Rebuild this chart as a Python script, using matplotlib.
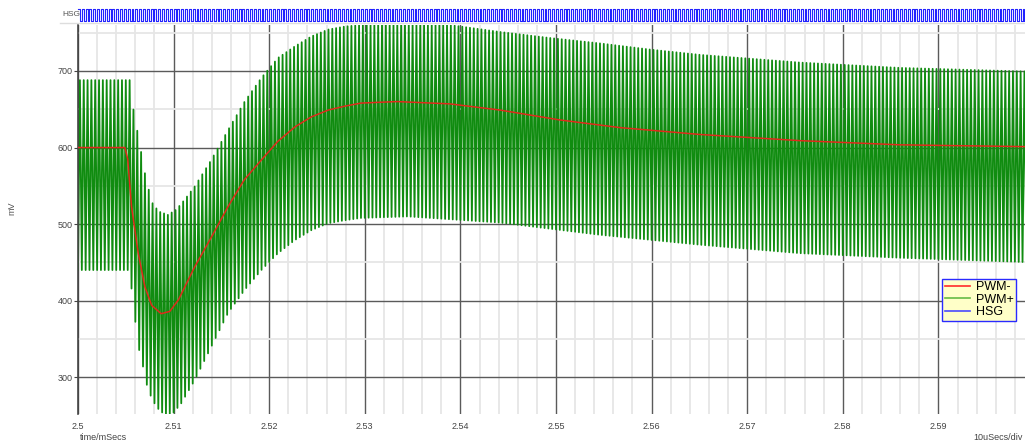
import numpy as np
import matplotlib
matplotlib.use('Agg')
import matplotlib.pyplot as plt
from matplotlib.lines import Line2D
from matplotlib.ticker import MultipleLocator, FuncFormatter

plt.rcParams['font.family'] = ['Liberation Sans', 'DejaVu Sans']

# PWM- (average) trace
pwm_minus_t = [2.5, 2.5049, 2.5052, 2.5056, 2.5063, 2.5070, 2.5077, 2.5087, 2.5096, 2.5105,
               2.5122, 2.5140, 2.5157, 2.5174, 2.5192, 2.5209, 2.5227, 2.5244, 2.5262,
               2.5279, 2.5296, 2.5314, 2.5334, 2.5389, 2.5441, 2.5504, 2.5567, 2.5651,
               2.5755, 2.5860, 2.6]
pwm_minus_mv = [600, 600, 585, 523, 462, 418, 394, 383, 386, 401,
                444, 484, 523, 558, 584, 608, 627, 640, 649,
                654, 658, 659, 660, 657, 649, 636, 626, 617,
                609, 603.5, 601]

# PWM+ ripple: peak and trough envelopes
upper_t = [2.5, 2.5054, 2.50575, 2.5063, 2.50715, 2.50785, 2.50854, 2.50941, 2.51029,
           2.51116, 2.5122, 2.51395, 2.5157, 2.51743, 2.51918, 2.52092, 2.52267, 2.5244,
           2.52615, 2.5279, 2.5296, 2.5314, 2.5345, 2.5389, 2.5441, 2.5494, 2.5546,
           2.5598, 2.5651, 2.5755, 2.5860, 2.6]
upper_mv = [688, 688, 653, 615, 556, 525, 516, 512, 519,
            532, 549, 584, 623, 660, 691, 717, 732, 745,
            754, 758, 760, 762, 762, 760, 751, 743, 736,
            728, 721, 711, 704, 699]
lower_t = [2.5, 2.5052, 2.50558, 2.50628, 2.5068, 2.50732, 2.5082, 2.50906, 2.50994,
           2.5108, 2.5122, 2.51395, 2.5157, 2.51743, 2.51918, 2.52092, 2.52267, 2.5244,
           2.52615, 2.5279, 2.5296, 2.5345, 2.5441, 2.5546, 2.5651, 2.5755, 2.5860, 2.6]
lower_mv = [440, 440, 418, 342, 314, 283, 261, 251, 253,
            266, 296, 340, 384, 414, 440, 462, 479, 492,
            501, 505, 508, 510, 502, 486, 473, 462, 456, 450]

switch_period = 0.0004   # mSecs, ~2.5 MHz
t_start, t_end = 2.5, 2.6
x_ticks = [2.5, 2.51, 2.52, 2.53, 2.54, 2.55, 2.56, 2.57, 2.58, 2.59]
y_ticks = [300, 400, 500, 600, 700]

W, H = 1025, 442
fig = plt.figure(figsize=(W / 100, H / 100), dpi=100)

def fig_box(x0, y0, x1, y1):
    # pixel box (top-left origin) -> figure fraction rect
    return [x0 / W, 1 - y1 / H, (x1 - x0) / W, (y1 - y0) / H]

ax = fig.add_axes(fig_box(78, 25, 1034, 414))
hsg = fig.add_axes(fig_box(78, 9, 1034, 21))

# ripple: troughs at cycle starts, peaks at half-cycles
n_half = int(round((t_end - t_start) / (switch_period / 2)))
t_pts = t_start + np.arange(n_half + 1) * switch_period / 2
is_peak = np.arange(n_half + 1) % 2 == 1
ripple = np.where(is_peak, np.interp(t_pts, upper_t, upper_mv), np.interp(t_pts, lower_t, lower_mv))

ax.plot(t_pts, ripple, color='#108c10', lw=1.3, zorder=2)
ax.plot(pwm_minus_t, pwm_minus_mv, color='#e02a1a', lw=1.1, zorder=3)

ax.set_xlim(t_start, t_end)
ax.set_ylim(252, 760)
ax.xaxis.set_minor_locator(MultipleLocator(0.002))
ax.yaxis.set_minor_locator(MultipleLocator(50))
ax.set_xticks(x_ticks)
ax.set_yticks(y_ticks)
ax.xaxis.set_major_formatter(FuncFormatter(lambda v, p: '%g' % round(v, 3)))
ax.grid(which='major', color='#5a5a5a', lw=1.0, zorder=1)
ax.grid(which='minor', color='#e6e6e6', lw=1.3, zorder=0)
ax.set_axisbelow(True)
for s in ['top', 'right', 'bottom']:
    ax.spines[s].set_visible(False)
ax.spines['left'].set_color('#444444')
ax.spines['left'].set_linewidth(1.2)
ax.tick_params(axis='x', which='both', length=0, labelsize=6.5, labelcolor='#444444', pad=6)
ax.tick_params(axis='y', which='major', length=3, color='#444444', labelsize=6.5,
               labelcolor='#444444', pad=1)
ax.tick_params(axis='y', which='minor', length=0)

leg_handles = [Line2D([], [], color='#ff2a2a', lw=1.2),
               Line2D([], [], color='#66bb44', lw=1.2),
               Line2D([], [], color='#4a4aff', lw=1.2)]
leg = fig.legend(leg_handles, ['PWM-', 'PWM+', 'HSG'], loc='upper left',
                 bbox_to_anchor=(942 / W, 1 - 279 / H), fancybox=False, fontsize=9,
                 handlelength=2.0, handletextpad=0.5, labelspacing=0.02,
                 borderpad=0.2, borderaxespad=0)
leg.get_frame().set_facecolor('#ffffc8')
leg.get_frame().set_edgecolor('#2a2aff')
leg.get_frame().set_linewidth(1.0)
leg.get_frame().set_alpha(1)

# HSG gate drive strip, one pulse per switching cycle
hsg_t = t_start + np.arange(n_half + 1) * switch_period / 2
hsg_level = (np.arange(n_half + 1) % 2 == 0).astype(float)
hsg.plot(hsg_t, hsg_level, color='#2222ff', lw=0.8, drawstyle='steps-post', clip_on=False)
hsg.set_xlim(t_start, t_end)
hsg.set_ylim(0, 1)
hsg.axis('off')

fig.add_artist(Line2D([60 / W, 1], [1 - 22.5 / H] * 2, color='#dddddd', lw=1))
fig.text(62 / W, 1 - 14 / H, 'HSG', fontsize=6, color='#555555', va='center', ha='left')
fig.text(12 / W, 1 - 208 / H, 'mV', fontsize=6.5, color='#555555', rotation=90,
         va='center', ha='center')
fig.text(80 / W, 1 - 437 / H, 'time/mSecs', fontsize=6.5, color='#444444', va='center')
fig.text(1023 / W, 1 - 437 / H, '10uSecs/div', fontsize=6.5, color='#444444',
         va='center', ha='right')

fig.savefig('out.png', dpi=100)
